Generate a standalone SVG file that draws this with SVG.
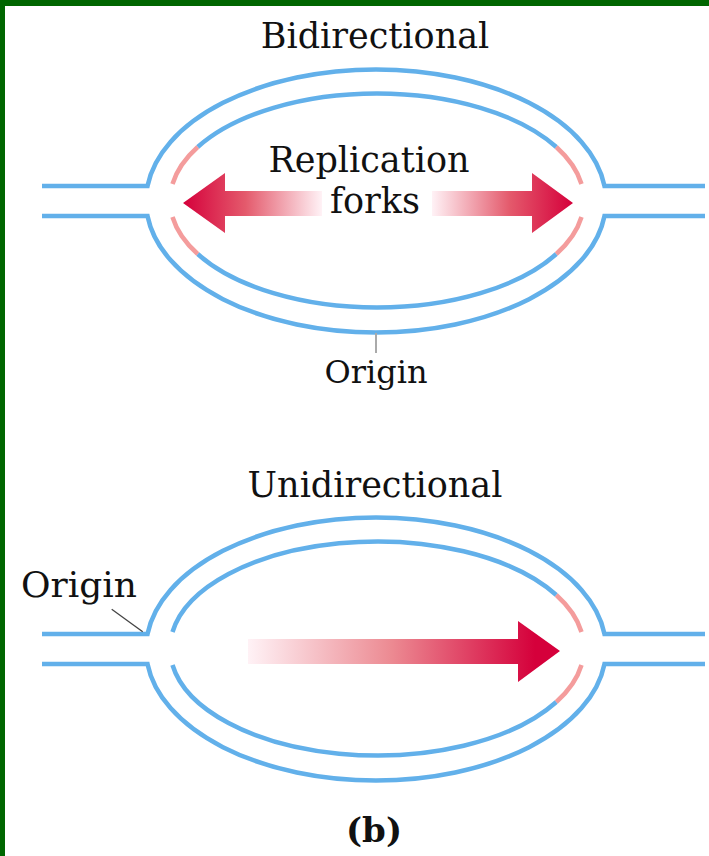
<svg xmlns="http://www.w3.org/2000/svg" width="709" height="856" viewBox="0 0 709 856">
<style>
.dna{fill:none;stroke:#62b0ea;stroke-width:4.5}
.new{fill:none;stroke:#f49c9c;stroke-width:4.5}
.lbl{font-family:"DejaVu Serif","Liberation Serif",serif;fill:#111;text-anchor:middle}
</style>
<defs>
<linearGradient id="gL" gradientUnits="userSpaceOnUse" x1="183" y1="0" x2="322" y2="0">
<stop offset="0" stop-color="#d5003b"/><stop offset="0.45" stop-color="#e45a6c"/><stop offset="1" stop-color="#fff2f6"/>
</linearGradient>
<linearGradient id="gR" gradientUnits="userSpaceOnUse" x1="432" y1="0" x2="573" y2="0">
<stop offset="0" stop-color="#fff2f6"/><stop offset="0.55" stop-color="#e45a6c"/><stop offset="1" stop-color="#d5003b"/>
</linearGradient>
<linearGradient id="gU" gradientUnits="userSpaceOnUse" x1="248" y1="0" x2="535" y2="0">
<stop offset="0" stop-color="#fff2f6"/><stop offset="0.5" stop-color="#ec8a92"/><stop offset="1" stop-color="#d5003b"/>
</linearGradient>
</defs>
<rect width="709" height="856" fill="#fff"/>
<g id="border" fill="#006600">
<rect x="0" y="0" width="709" height="6"/>
<rect x="0" y="0" width="5" height="856"/>
</g>
<g id="bidirectional">
<path class="dna" d="M42 186 H147.5 A230 131.5 0 0 1 604.5 186 H705"/>
<path class="dna" d="M42 216 H147.5 A230 131.5 0 0 0 604.5 216 H705"/>
<path class="dna" d="M197.7 147 A207 107 0 0 1 556.3 147"/>
<path class="dna" d="M556.3 254 A207 107 0 0 1 197.7 254"/>
<path class="new" d="M172.5 184 A207 107 0 0 1 197.7 147"/>
<path class="new" d="M556.3 147 A207 107 0 0 1 581.5 184"/>
<path class="new" d="M581.5 217 A207 107 0 0 1 556.3 254"/>
<path class="new" d="M197.7 254 A207 107 0 0 1 172.5 217"/>
<polygon fill="url(#gL)" points="183,203 225,173 225,191 322,191 322,216 225,216 225,233"/>
<polygon fill="url(#gR)" points="573,203 532,173 532,191 432,191 432,216 532,216 532,233"/>
</g>
<g id="unidirectional">
<path class="dna" d="M42 634 H147.5 A230 131.5 0 0 1 604.5 634 H705"/>
<path class="dna" d="M42 664 H147.5 A230 131.5 0 0 0 604.5 664 H705"/>
<path class="dna" d="M172.5 632 A207 107 0 0 1 556.3 595"/>
<path class="dna" d="M556.3 702 A207 107 0 0 1 172.5 665"/>
<path class="new" d="M556.3 595 A207 107 0 0 1 581.5 632"/>
<path class="new" d="M581.5 665 A207 107 0 0 1 556.3 702"/>
<polygon fill="url(#gU)" points="560,651 518,621 518,639 248,639 248,664 518,664 518,682"/>
</g>
<g id="connectors">
<line x1="376" y1="333" x2="376" y2="353" stroke="#aaaaaa" stroke-width="2"/>
<line x1="111.7" y1="609.3" x2="142.7" y2="631.7" stroke="#444" stroke-width="1.3"/>
</g>
<g id="labels">
<text class="lbl" x="375" y="48.3" font-size="35">Bidirectional</text>
<text class="lbl" x="369" y="171.7" font-size="35">Replication</text>
<text class="lbl" x="375" y="213.3" font-size="35">forks</text>
<text class="lbl" x="376" y="383.3" font-size="32">Origin</text>
<text class="lbl" x="375" y="496.7" font-size="35">Unidirectional</text>
<text class="lbl" x="79" y="597.3" font-size="36">Origin</text>
<text class="lbl" x="374" y="841.7" font-size="34" font-weight="bold">(b)</text>
</g>
</svg>
